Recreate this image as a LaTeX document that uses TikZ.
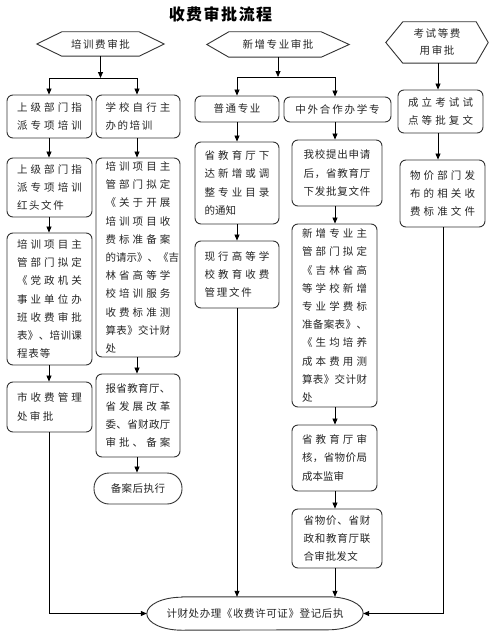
\documentclass[tikz,border=0pt]{standalone}
\usepackage{fontspec}
\setmainfont{Noto Sans CJK SC}
\usetikzlibrary{arrows.meta,calc}
\makeatletter
\newcommand\jl[2][65pt]{\hbox to #1{\@tfor\cx:=#2\do{\cx\hfil}\unskip}}
\newcommand\nl[2][1.6pt]{\hbox{\@tfor\cx:=#2\do{\cx\hskip#1\relax}\unskip}}
\makeatother
\begin{document}
\begin{tikzpicture}[x=1pt,y=-1pt,
  box/.style={draw=black!80, line width=0.9pt, rounded corners=6pt, inner sep=0pt, align=left, font=\fontsize{10.5}{18.2}\selectfont, text=black!85},
  hexn/.style={inner sep=0pt, align=center, font=\fontsize{10.5}{17}\selectfont, text=black!85},
  hexd/.style={draw=black!80, line width=0.9pt},
  arr/.style={draw=black, line width=0.8pt, -{Triangle[length=6pt,width=5pt]}},
  ln/.style={draw=black, line width=0.8pt}]
\useasboundingbox (0,0) rectangle (490,634);
\fill[white] (0,0) rectangle (490,634);

% title
\node[inner sep=0pt, font=\fontsize{16}{16}\selectfont\bfseries] (title) at (220.5,14) {\nl[1.5pt]{收费审批流程}};

% hexagons
\node[hexn, minimum width=127pt, minimum height=24pt] (h1) at (100.5,44) {\nl{培训费审批}};
\draw[hexd] (h1.west) -- ($(h1.north west)+(25pt,0)$) -- ($(h1.north east)+(-25pt,0)$) -- (h1.east) -- ($(h1.south east)+(-25pt,0)$) -- ($(h1.south west)+(25pt,0)$) -- cycle;
\node[hexn, minimum width=142pt, minimum height=25pt] (h2) at (278,44.5) {\nl{新增专业审批}};
\draw[hexd] (h2.west) -- ($(h2.north west)+(22pt,0)$) -- ($(h2.north east)+(-28pt,0)$) -- (h2.east) -- ($(h2.south east)+(-28pt,0)$) -- ($(h2.south west)+(22pt,0)$) -- cycle;
\node[hexn, minimum width=102pt, minimum height=41pt] (h3) at (437,42.5) {\nl{考试等费}\\\nl{用审批}};
\draw[hexd] (h3.west) -- ($(h3.north west)+(17pt,0)$) -- ($(h3.north east)+(-12pt,0)$) -- (h3.east) -- ($(h3.south east)+(-12pt,0)$) -- ($(h3.south west)+(17pt,0)$) -- cycle;

% row 1
\node[box, minimum width=85pt, minimum height=43pt] (a1) at (49.5,116.5) {\jl{上级部门指}\\\jl{派专项培训}};
\node[box, minimum width=84pt, minimum height=43pt] (b1) at (138,116.5) {\jl{学校自行主}\\\nl{办的培训}};
\node[box, minimum width=84pt, minimum height=26pt, align=center] (c1) at (237,109) {\nl{普通专业}};
\node[box, minimum width=107pt, minimum height=25pt, align=center] (d1) at (337.5,109.5) {\nl[1.8pt]{中外合作办学专}};
\node[box, minimum width=85pt, minimum height=43pt] (e1) at (440.5,111.5) {\jl{成立考试试}\\\jl{点等批复文}};

% row 2
\node[box, minimum width=85pt, minimum height=59pt] (a2) at (49.5,187.5) {\jl{上级部门指}\\\jl{派专项培训}\\\nl{红头文件}};
\node[box, minimum width=84pt, minimum height=199pt] (b2) at (138,257.5) {\jl{培训项目主}\\\jl{管部门拟定}\\\jl{《关于开展}\\\jl{培训项目收}\\\jl{费标准备案}\\\jl{的请示》、《吉}\\\jl{林省高等学}\\\jl{校培训服务}\\\jl{收费标准测}\\\jl{算表》交计财}\\\nl{处}};
\node[box, minimum width=84pt, minimum height=82pt] (c2) at (237,183) {\jl{省教育厅下}\\\jl{达新增或调}\\\jl{整专业目录}\\\nl[0pt]{的通知}};
\node[box, minimum width=90pt, minimum height=66pt] (d2) at (337,173) {\jl[67pt]{我校提出申请}\\\jl[67pt]{后，省教育厅}\\\jl[67pt]{下发批复文件}};
\node[box, minimum width=85pt, minimum height=67pt] (e2) at (442.5,193.5) {\jl{物价部门发}\\\jl{布的相关收}\\\jl{费标准文件}};

% row 3
\node[box, minimum width=85pt, minimum height=132pt] (a3) at (49.5,299) {\jl{培训项目主}\\\jl{管部门拟定}\\\jl{《党政机关}\\\jl{事业单位办}\\\jl{班收费审批}\\\jl{表》、培训课}\\\nl[1pt]{程表等}};
\node[box, minimum width=84pt, minimum height=67pt] (c3) at (237,274.5) {\jl{现行高等学}\\\jl{校教育收费}\\\nl[1.8pt]{管理文件}};
\node[box, minimum width=85pt, minimum height=183pt] (d3) at (334.5,315.5) {\jl{新增专业主}\\\jl{管部门拟定}\\\jl{《吉林省高}\\\jl{等学校新增}\\\jl{专业学费标}\\\jl{准备案表》、}\\\jl{《生均培养}\\\jl{成本费用测}\\\jl{算表》交计财}\\\nl{处}};

% row 4
\node[box, minimum width=85pt, minimum height=50pt] (a4) at (49.5,407) {\jl{市收费管理}\\\nl[2.5pt]{处审批}};
\node[box, minimum width=84pt, minimum height=83pt] (b3) at (138,415.5) {\jl{报省教育厅、}\\\jl{省发展改革}\\\jl{委、省财政厅}\\\jl{审批、备案}};
\node[box, minimum width=85pt, minimum height=66pt] (d4) at (334.5,458) {\jl{省教育厅审}\\\jl{核，省物价局}\\\nl[0pt]{成本监审}};
\node[box, minimum width=90pt, minimum height=59pt] (d5) at (337,538.5) {\jl[67pt]{省物价、省财}\\\jl[67pt]{政和教育厅联}\\\nl[0.5pt]{合审批发文}};
\node[box, minimum width=88pt, minimum height=31pt, rounded corners=15pt, align=center] (b4) at (138,488.5) {\nl[0.5pt]{备案后执行}};

% final
\node[hexn, minimum width=216pt, minimum height=33pt] (fin) at (255,613.5) {\nl[0.6pt]{计财处办理《收费许可证》登记后执}};
\draw[hexd] ($(fin.north west)+(35pt,0)$) -- ($(fin.north east)+(-35pt,0)$)
  arc[start angle=90, end angle=-90, x radius=35pt, y radius=16.5pt]
  -- ($(fin.south west)+(35pt,0)$)
  arc[start angle=270, end angle=90, x radius=35pt, y radius=16.5pt] -- cycle;

% column x positions
\coordinate (xa) at (49,0);
\coordinate (xb) at (137,0);
\coordinate (xc) at (237,0);
\coordinate (xd) at (335,0);
\coordinate (xe) at (438,0);
\coordinate (xf) at (443,0);

% splits
\coordinate (j1) at (100.5,78);
\coordinate (j2) at (278,77);
\draw[arr] (h1.south) -- (j1);
\draw[ln] (xa |- j1) -- (xb |- j1);
\draw[arr] (xa |- j1) -- (xa |- a1.north);
\draw[arr] (xb |- j1) -- (xb |- b1.north);
\draw[arr] (h2.south) -- (j2);
\draw[ln] (xc |- j2) -- (xd |- j2);
\draw[arr] (xc |- j2) -- (xc |- c1.north);
\draw[arr] (xd |- j2) -- (xd |- d1.north);
\draw[arr] (xe |- h3.south) -- (xe |- e1.north);

% column a
\draw[arr] (xa |- a1.south) -- (xa |- a2.north);
\draw[arr] (xa |- a2.south) -- (xa |- a3.north);
\draw[arr] (xa |- a3.south) -- (xa |- a4.north);
\draw[arr] (xa |- a4.south) |- (fin.west);
% column b
\draw[arr] (xb |- b1.south) -- (xb |- b2.north);
\draw[arr] (xb |- b2.south) -- (xb |- b3.north);
\draw[arr] (xb |- b3.south) -- (xb |- b4.north);
% column c
\draw[arr] (xc |- c1.south) -- (xc |- c2.north);
\draw[arr] (xc |- c2.south) -- (xc |- c3.north);
\draw[arr] (xc |- c3.south) -- (xc |- fin.north);
% column d
\draw[arr] (xd |- d1.south) -- (xd |- d2.north);
\draw[arr] (xd |- d2.south) -- (xd |- d3.north);
\draw[arr] (xd |- d3.south) -- (xd |- d4.north);
\draw[arr] (xd |- d4.south) -- (xd |- d5.north);
\draw[arr] (xd |- d5.south) -- (xd |- fin.north);
% column e
\draw[arr] (xe |- e1.south) -- (xe |- e2.north);
\draw[arr] (xf |- e2.south) |- (fin.east);
\end{tikzpicture}
\end{document}
